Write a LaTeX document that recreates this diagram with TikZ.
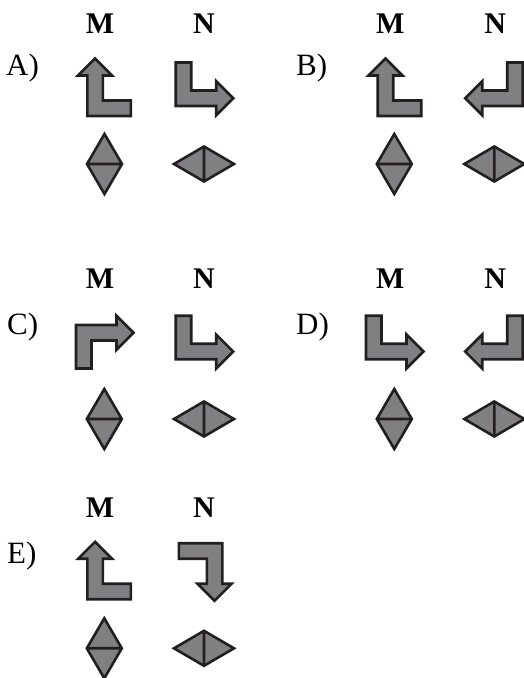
\documentclass[tikz,border=0pt]{standalone}
\usepackage{fontspec}
\setmainfont{Liberation Serif}
\definecolor{shapegray}{RGB}{128,128,131}
\definecolor{shapeedge}{RGB}{35,31,32}
\definecolor{bluegray}{RGB}{110,122,136}
\begin{document}
\begin{tikzpicture}[x=1pt,y=1pt,
  shp/.style={draw=shapeedge,fill=shapegray,line width=2.6pt,line join=miter},
  lbl/.style={font=\fontsize{30}{30}\selectfont\bfseries,inner sep=0pt,anchor=base},
  opt/.style={font=\fontsize{31}{31}\selectfont,inner sep=0pt,anchor=base west},
  larrow/.pic={\draw[shp,pic actions] (0,0) -- (0,43.5) -- (15.5,43.5) -- (15.5,15.5) -- (40.5,15.5) -- (40.5,24.75) -- (57.5,7.75) -- (40.5,-9.25) -- (40.5,0) -- cycle;},
  diam/.pic={\draw[shp,pic actions] (0,30) -- (17.5,0) -- (0,-30) -- (-17.5,0) -- cycle (-17.5,0) -- (17.5,0);}]
\useasboundingbox (0,0) rectangle (524,678);
\node[opt] (optA) at (6,602) {A)};
\node[lbl] (mA) at (100,644.5) {M};
\node[lbl] (nA) at (204,644.5) {N};
\pic[shift={(87.3,562)},cm={0,1,1,0,(0,0)}] {larrow};
\pic[shift={(175.7,572)},cm={1,0,0,1,(0,0)}] {larrow};
\pic at (104.5,514) {diam};
\pic[rotate=90] at (204,514) {diam};
\node[opt] (optB) at (296,602) {B)};
\node[lbl] (mB) at (390.3,644.5) {M};
\node[lbl] (nB) at (495.3,644.5) {N};
\pic[shift={(377.7,562)},cm={0,1,1,0,(0,0)}] {larrow};
\pic[shift={(522.7,572)},cm={-1,0,0,1,(0,0)}] {larrow};
\pic at (394.3,514) {diam};
\pic[rotate=90] at (494.3,514) {diam};
\node[opt] (optC) at (7,343) {C)};
\node[lbl] (mC) at (100,389.7) {M};
\node[lbl] (nC) at (204,389.7) {N};
\pic[shift={(76,353)},cm={1,0,0,-1,(0,0)}] {larrow};
\pic[shift={(175.7,318.7)},cm={1,0,0,1,(0,0)}] {larrow};
\pic at (104.3,259) {diam};
\pic[rotate=90] at (204,259) {diam};
\node[opt] (optD) at (296,343) {D)};
\node[lbl] (mD) at (390.3,389.7) {M};
\node[lbl] (nD) at (495.3,389.7) {N};
\pic[shift={(366,318.7)},cm={1,0,0,1,(0,0)}] {larrow};
\pic[shift={(522.7,318.7)},cm={-1,0,0,1,(0,0)}] {larrow};
\pic[fill=bluegray] at (394.3,259) {diam};
\pic[rotate=90,fill=bluegray] at (494.3,259) {diam};
\node[opt] (optE) at (7,114) {E)};
\node[lbl] (mE) at (100,160.5) {M};
\node[lbl] (nE) at (204,160.5) {N};
\pic[shift={(87.3,78.7)},cm={0,1,1,0,(0,0)}] {larrow};
\pic[shift={(222.3,134.7)},cm={0,-1,-1,0,(0,0)}] {larrow};
\pic at (104.3,29.7) {diam};
\pic[rotate=90] at (204,29.7) {diam};
\end{tikzpicture}
\end{document}
